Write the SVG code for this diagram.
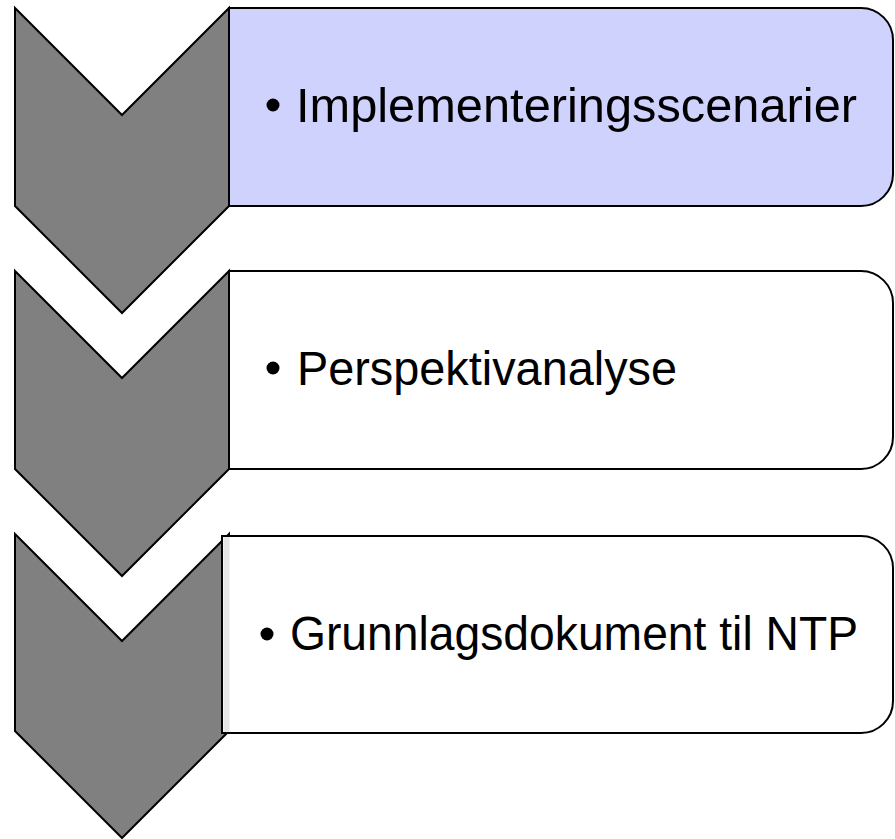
<svg xmlns="http://www.w3.org/2000/svg" width="895" height="839" viewBox="0 0 895 839">
<style>
.chev{fill:#808080;stroke:#000;stroke-width:2;stroke-linejoin:miter}
.box{stroke:#000;stroke-width:2}
.t{font-family:"Liberation Sans",Arial,sans-serif;font-size:48px;fill:#000}
</style>
<rect width="895" height="839" fill="#fff"/>
<g id="step1">
<polygon class="chev" points="15,8 122,115 229,8 229,206 122,313 15,206"/>
<path class="box" fill="#d0d2fe" d="M229,8 H861 A32,32 0 0 1 893,40 V174 A32,32 0 0 1 861,206 H229 Z"/>
<circle cx="273" cy="105" r="6.5"/>
<text class="t" x="296" y="122" textLength="561" lengthAdjust="spacingAndGlyphs">Implementeringsscenarier</text>
</g>
<g id="step2">
<polygon class="chev" points="15,271 122,378 229,271 229,469 122,576 15,469"/>
<path class="box" fill="#fff" d="M229,271 H861 A32,32 0 0 1 893,303 V437 A32,32 0 0 1 861,469 H229 Z"/>
<circle cx="273" cy="368" r="6.5"/>
<text class="t" x="297" y="385" textLength="380" lengthAdjust="spacingAndGlyphs">Perspektivanalyse</text>
</g>
<g id="step3">
<polygon class="chev" points="15,534 122,641 229,534 229,731 122,838 15,731"/>
<path class="box" fill="#fff" d="M222,536 H861 A32,32 0 0 1 893,568 V701 A32,32 0 0 1 861,733 H222 Z"/>
<rect x="223.5" y="537" width="6" height="195" fill="#e6e6e6"/>
<circle cx="267" cy="634" r="6.5"/>
<text class="t" x="290" y="650" textLength="568" lengthAdjust="spacingAndGlyphs">Grunnlagsdokument til NTP</text>
</g>
<g id="connectors"></g>
</svg>
